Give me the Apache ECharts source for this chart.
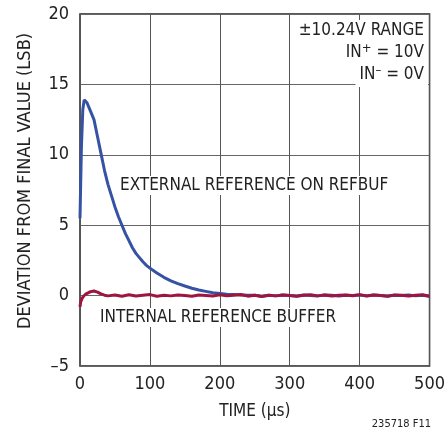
<!DOCTYPE html>
<html>
<head>
<meta charset="utf-8">
<script src="https://cdn.jsdelivr.net/npm/echarts@6/dist/echarts.min.js"></script>
<style>
  html, body { margin: 0; padding: 0; background: #fff; }
  #chart { width: 448px; height: 436px; }
</style>
</head>
<body>
<div id="chart"></div>
<script>
// settling of the ADC output (LSB) vs time (us)
const extTime = [0, 2, 4, 6, 8, 10, 15, 20, 25, 30, 35, 40, 45, 50, 55, 60, 65, 70, 75, 80, 85, 90, 95, 100,
  110, 120, 130, 140, 150, 160, 170, 180, 190, 200, 210, 220, 230, 240, 250, 260, 270, 280, 290, 300,
  310, 320, 330, 340, 350, 360, 370, 380, 390, 400, 410, 420, 430, 440, 450, 460, 470, 480, 490, 500];
const extValue = [5.5, 10.5, 13.2, 13.9, 14.0, 13.7, 13.1, 12.5, 11.3, 10.1, 8.9, 7.9, 7.1, 6.3, 5.6, 5.0, 4.4, 3.9, 3.4, 3.0, 2.7, 2.4, 2.15, 1.95,
  1.6, 1.3, 1.05, 0.85, 0.68, 0.52, 0.4, 0.3, 0.2, 0.15, 0.1, 0.08, 0.05, 0.02, 0.02, -0.04, 0.03, -0.02, 0.04, 0.0,
  -0.03, 0.05, 0.01, -0.02, 0.04, 0.02, -0.03, 0.03, 0.0, 0.05, -0.02, 0.04, 0.01, -0.03, 0.03, 0.0, 0.04, -0.02, 0.03, -0.04];

const intTime = [0, 1, 3, 5, 8, 11, 15, 20, 25, 30, 35, 40, 50, 60, 70, 80, 90, 100, 110, 120, 130, 140, 150,
  160, 170, 180, 190, 200, 210, 220, 230, 240, 250, 260, 270, 280, 290, 300, 310, 320, 330, 340, 350,
  360, 370, 380, 390, 400, 410, 420, 430, 440, 450, 460, 470, 480, 490, 500];
const intValue = [-0.8, -0.45, -0.2, -0.05, 0.1, 0.18, 0.28, 0.33, 0.25, 0.12, 0.03, -0.02, 0.04, -0.05, 0.06, -0.03, 0.02, 0.07, -0.04, 0.03, -0.02, 0.05, 0.0,
  -0.05, 0.04, 0.01, -0.03, 0.06, -0.02, 0.03, 0.08, -0.04, 0.02, -0.06, 0.03, -0.02, 0.05, 0.0, -0.04, 0.03, 0.06, -0.02, 0.04,
  -0.03, 0.02, 0.05, -0.01, 0.07, -0.03, 0.04, 0.0, -0.04, 0.05, 0.02, -0.03, 0.03, 0.06, -0.05];

const FONT = '"Liberation Sans Narrow", "DejaVu Sans Condensed", sans-serif';

const pairs = (xs, ys) => xs.map((x, i) => [x, ys[i]]);

const myChart = echarts.init(document.getElementById("chart"));
const option = {
  animation: false,
  grid: {
    left: 80, right: 17, top: 14, bottom: 70,
    show: true, borderColor: "#222", borderWidth: 1.5
  },
  xAxis: {
    type: "value", min: 0, max: 500, interval: 100,
    name: "TIME (µs)", nameLocation: "middle", nameGap: 37,
    nameTextStyle: { fontFamily: FONT, fontSize: 17, color: "#222" },
    axisLine: { show: false },
    axisTick: { show: false },
    axisLabel: { fontFamily: FONT, fontSize: 18, color: "#222", margin: 9 },
    splitLine: { show: true, lineStyle: { color: "#555", width: 1 } }
  },
  yAxis: {
    type: "value", min: -5, max: 20, interval: 5,
    name: "DEVIATION FROM FINAL VALUE (LSB)", nameLocation: "middle", nameGap: 46,
    nameTextStyle: { fontFamily: FONT, fontSize: 18, color: "#222", padding: [0, 0, 0, 18] },
    axisLine: { show: false },
    axisTick: { show: false },
    axisLabel: {
      fontFamily: FONT, fontSize: 18, color: "#222", margin: 11,
      formatter: v => (v < 0 ? "\u2013" + Math.abs(v) : String(v))
    },
    splitLine: { show: true, lineStyle: { color: "#666", width: 1 } }
  },
  graphic: [
    {
      type: "text", right: 20, top: 20, z: 10,
      style: {
        text: "±10.24V RANGE", font: "17px " + FONT, fill: "#222",
        backgroundColor: "#fff", padding: [2, 4]
      }
    },
    {
      type: "text", right: 20, top: 40, z: 10,
      style: {
        text: "{n|IN}{s|+}{n| = 10V}", fill: "#222", backgroundColor: "#fff", padding: [2, 4],
        rich: {
          n: { fontFamily: FONT, fontSize: 17, fill: "#222" },
          s: { fontFamily: FONT, fontSize: 13, fill: "#222", verticalAlign: "top", padding: [0, 0, 8, 0] }
        }
      }
    },
    {
      type: "text", right: 20, top: 62, z: 10,
      style: {
        text: "{n|IN}{s|\u2013}{n| = 0V}", fill: "#222", backgroundColor: "#fff", padding: [2, 4],
        rich: {
          n: { fontFamily: FONT, fontSize: 17, fill: "#222" },
          s: { fontFamily: FONT, fontSize: 13, fill: "#222", verticalAlign: "top", padding: [0, 0, 8, 0] }
        }
      }
    },
    {
      type: "text", left: 117, top: 176, z: 10,
      style: {
        text: "EXTERNAL REFERENCE ON REFBUF", font: "17px " + FONT, fill: "#222",
        backgroundColor: "#fff", padding: [1, 3]
      }
    },
    {
      type: "text", left: 97, top: 308, z: 10,
      style: {
        text: "INTERNAL REFERENCE BUFFER", font: "17px " + FONT, fill: "#222",
        backgroundColor: "#fff", padding: [1, 3]
      }
    },
    {
      type: "text", right: 17, top: 419,
      style: { text: "235718 F11", font: "11px " + FONT, fill: "#222" }
    }
  ],
  series: [
    {
      name: "EXTERNAL", type: "line", showSymbol: false, z: 3,
      data: pairs(extTime, extValue),
      lineStyle: { color: "#3552a4", width: 3 }
    },
    {
      name: "INTERNAL", type: "line", showSymbol: false, z: 4,
      data: pairs(intTime, intValue),
      lineStyle: { color: "#9c1640", width: 3 }
    }
  ]
};
myChart.setOption(option);
window.addEventListener("resize", () => myChart.resize());
</script>
</body>
</html>
